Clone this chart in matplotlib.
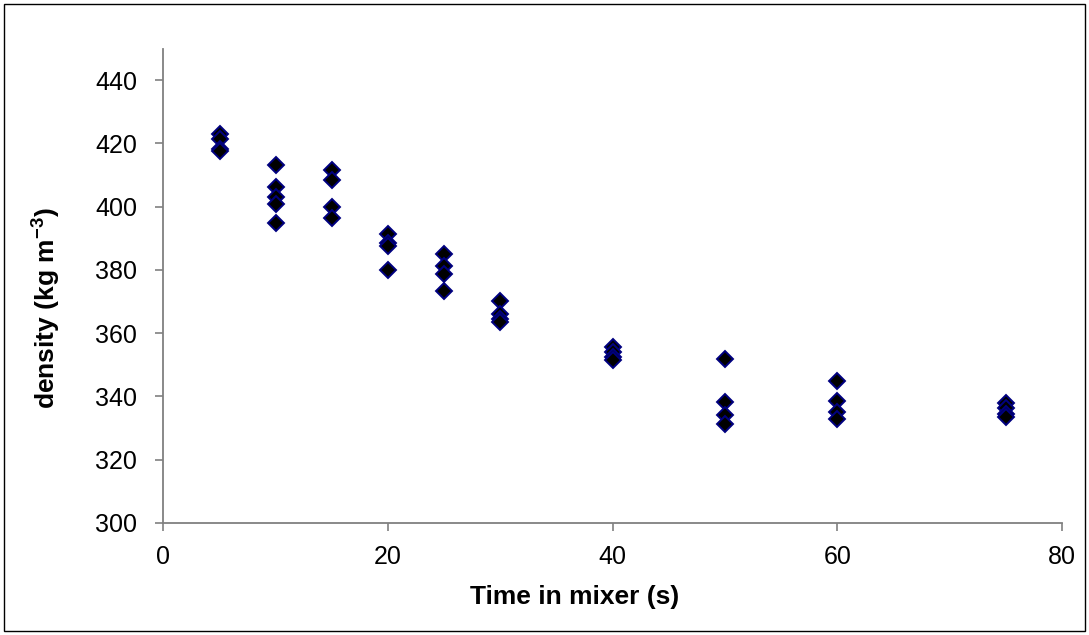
import matplotlib
matplotlib.use("Agg")
import matplotlib.pyplot as plt
from matplotlib.patches import Rectangle

plt.rcParams['font.family'] = ['Liberation Sans', 'DejaVu Sans']
plt.rcParams['mathtext.fontset'] = 'custom'
plt.rcParams['mathtext.rm'] = 'Liberation Sans'
plt.rcParams['mathtext.bf'] = 'Liberation Sans:bold'

# Data: time in mixer (s) and measured density (kg m^-3)
t5 = [5, 5, 5, 5]
d5 = [423.1, 421.5, 418.4, 417.5]
t10 = [10, 10, 10, 10, 10]
d10 = [413.3, 406.3, 403.0, 400.8, 394.8]
t15 = [15, 15, 15, 15]
d15 = [411.6, 408.6, 400.0, 396.3]
t20 = [20, 20, 20, 20]
d20 = [391.3, 388.5, 387.6, 380.1]
t25 = [25, 25, 25, 25]
d25 = [385.2, 381.4, 378.7, 373.5]
t30 = [30, 30, 30, 30]
d30 = [370.3, 366.1, 364.5, 363.4]
t40 = [40, 40, 40, 40]
d40 = [355.6, 354.0, 352.6, 351.5]
t50 = [50, 50, 50, 50]
d50 = [351.9, 338.4, 334.0, 331.4]
t60 = [60, 60, 60, 60]
d60 = [345.0, 338.7, 335.0, 332.9]
t75 = [75, 75, 75, 75]
d75 = [338.0, 336.2, 334.5, 333.4]

times = t5 + t10 + t15 + t20 + t25 + t30 + t40 + t50 + t60 + t75
densities = d5 + d10 + d15 + d20 + d25 + d30 + d40 + d50 + d60 + d75

x_ticks = [0, 20, 40, 60, 80]
y_ticks = [300, 320, 340, 360, 380, 400, 420, 440]

fig = plt.figure(figsize=(10.89, 6.35), dpi=100)
ax = fig.add_axes([0.1501, 0.1764, 0.8251, 0.7471])

ax.plot(times, densities, linestyle='none', marker='D', markersize=7.8,
        markerfacecolor='black', markeredgecolor='#000080', markeredgewidth=1.4)

ax.set_xlim(0, 80)
ax.set_ylim(300, 450)
ax.set_xticks(x_ticks)
ax.set_yticks(y_ticks)

for side in ['top', 'right']:
    ax.spines[side].set_visible(False)
for side in ['left', 'bottom']:
    ax.spines[side].set_color('#808080')
    ax.spines[side].set_linewidth(1.3)

ax.tick_params(axis='both', direction='out', length=6, width=1.2,
               color='#808080', labelsize=18, labelcolor='black')
ax.tick_params(axis='y', pad=13)
ax.tick_params(axis='x', pad=10)

ax.set_xlabel('Time in mixer (s)', fontsize=19, fontweight='bold')
ax.xaxis.label.set_va('center')
ax.xaxis.set_label_coords(0.458, -0.157)

ax.set_ylabel('density (kg m$\\mathbf{^{-3}}$)', fontsize=19, fontweight='bold')
ax.yaxis.label.set_va('center')
ax.yaxis.set_label_coords(-0.1297, 0.452)

fig.patches.append(Rectangle((4 / 1089, 4 / 635), 1081 / 1089, 627 / 635,
                             transform=fig.transFigure, fill=False,
                             edgecolor='black', linewidth=1))

fig.savefig('out.png', dpi=100)
